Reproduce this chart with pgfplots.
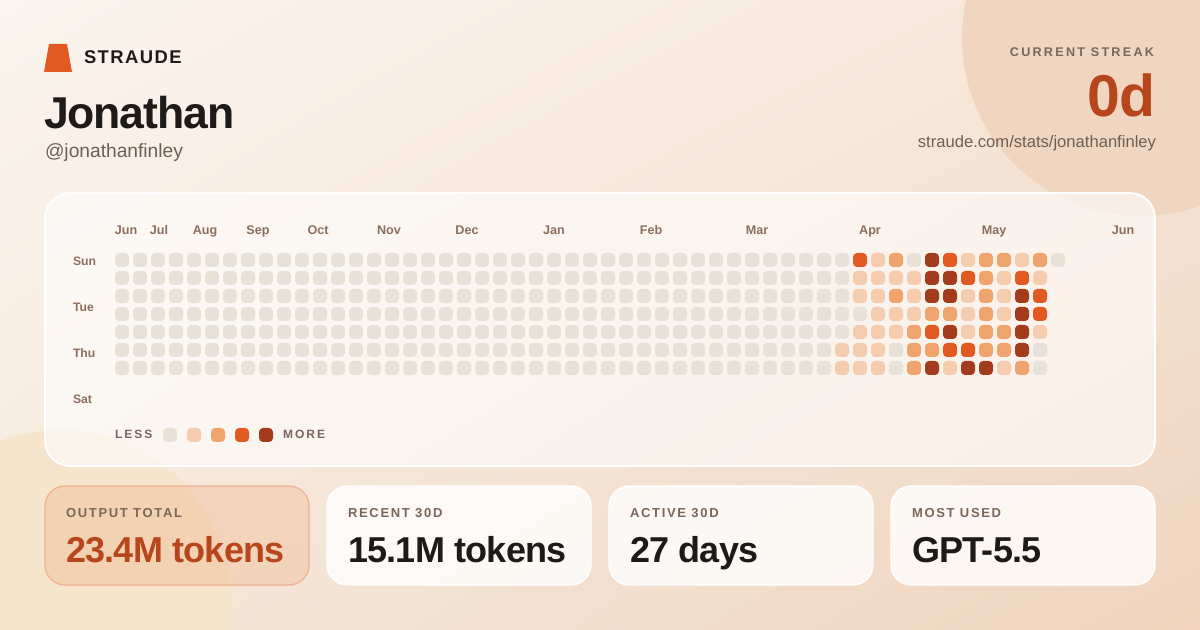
\documentclass[border=0pt]{standalone}
\usepackage{fontspec}
\setmainfont{Liberation Sans}
\usepackage{pgfplots}
\pgfplotsset{compat=1.18}
\usepackage{pgfplotstable}
\usetikzlibrary{shadings}

\definecolor{bgTL}{HTML}{FBF5EF}
\definecolor{bgTR}{HTML}{F5E6D8}
\definecolor{bgBL}{HTML}{F5E8DA}
\definecolor{bgBR}{HTML}{F0D4BE}
\definecolor{circTR}{HTML}{F0D5C0}
\definecolor{circBL}{HTML}{F7E4CD}
\definecolor{ink}{HTML}{1E1A17}
\definecolor{muted}{HTML}{6E5E54}
\definecolor{lab}{HTML}{7A665A}
\definecolor{mon}{HTML}{8C6E5D}
\definecolor{accent}{HTML}{B8461C}
\definecolor{logo}{HTML}{E05A22}
\definecolor{lv0}{HTML}{E8E1D7}
\definecolor{lv1}{HTML}{F6CCAE}
\definecolor{lv2}{HTML}{F0A46D}
\definecolor{lv3}{HTML}{E05A22}
\definecolor{lv4}{HTML}{A33C1C}
\definecolor{cardO}{HTML}{E9955F}
\definecolor{cardOb}{HTML}{EDB292}

% rounded square mark, half side 3.5pt, corner radius 2pt
\pgfdeclareplotmark{rsq}{%
  \pgfpathmoveto{\pgfqpoint{-1.5pt}{-3.5pt}}%
  \pgfpathlineto{\pgfqpoint{1.5pt}{-3.5pt}}%
  \pgfpatharc{-90}{0}{2pt}%
  \pgfpathlineto{\pgfqpoint{3.5pt}{1.5pt}}%
  \pgfpatharc{0}{90}{2pt}%
  \pgfpathlineto{\pgfqpoint{-1.5pt}{3.5pt}}%
  \pgfpatharc{90}{180}{2pt}%
  \pgfpathlineto{\pgfqpoint{-3.5pt}{-1.5pt}}%
  \pgfpatharc{180}{270}{2pt}%
  \pgfpathclose
  \pgfusepathqfill
}

% activity level per week (rows) and weekday (columns d0=Sun ... d6=Sat)
\pgfplotstableread{
w d0 d1 d2 d3 d4 d5 d6
0 0 0 0 0 0 0 0
1 0 0 0 0 0 0 0
2 0 0 0 0 0 0 0
3 0 0 0 0 0 0 0
4 0 0 0 0 0 0 0
5 0 0 0 0 0 0 0
6 0 0 0 0 0 0 0
7 0 0 0 0 0 0 0
8 0 0 0 0 0 0 0
9 0 0 0 0 0 0 0
10 0 0 0 0 0 0 0
11 0 0 0 0 0 0 0
12 0 0 0 0 0 0 0
13 0 0 0 0 0 0 0
14 0 0 0 0 0 0 0
15 0 0 0 0 0 0 0
16 0 0 0 0 0 0 0
17 0 0 0 0 0 0 0
18 0 0 0 0 0 0 0
19 0 0 0 0 0 0 0
20 0 0 0 0 0 0 0
21 0 0 0 0 0 0 0
22 0 0 0 0 0 0 0
23 0 0 0 0 0 0 0
24 0 0 0 0 0 0 0
25 0 0 0 0 0 0 0
26 0 0 0 0 0 0 0
27 0 0 0 0 0 0 0
28 0 0 0 0 0 0 0
29 0 0 0 0 0 0 0
30 0 0 0 0 0 0 0
31 0 0 0 0 0 0 0
32 0 0 0 0 0 0 0
33 0 0 0 0 0 0 0
34 0 0 0 0 0 0 0
35 0 0 0 0 0 0 0
36 0 0 0 0 0 0 0
37 0 0 0 0 0 0 0
38 0 0 0 0 0 0 0
39 0 0 0 0 0 0 0
40 0 0 0 0 0 1 1
41 3 1 1 0 1 1 1
42 1 1 1 1 1 1 1
43 2 1 2 1 1 0 0
44 0 1 1 1 2 2 2
45 4 4 4 2 3 2 4
46 3 4 4 2 4 3 1
47 1 3 1 1 1 3 4
48 2 2 2 2 2 2 4
49 2 1 1 1 2 2 1
50 1 3 4 4 4 4 2
51 2 1 3 3 1 0 0
}\heat

\tikzset{every node/.append style={inner sep=0pt, outer sep=0pt},
  mlab/.style={anchor=base, text=mon, font={\fontsize{6.3pt}{6.3pt}\selectfont\bfseries}},
  dlab/.style={anchor=base west, text=mon, font={\fontsize{6.1pt}{6.1pt}\selectfont\bfseries}},
  clab/.style={anchor=base west, text=lab, font={\fontsize{6.5pt}{6.5pt}\selectfont\bfseries\addfontfeatures{LetterSpace=13}}},
  cval/.style={anchor=base west, text=ink, font={\fontsize{18pt}{18pt}\selectfont\bfseries\addfontfeatures{LetterSpace=-2}}},
  wcard/.style={fill=white, fill opacity=0.8, draw=white, line width=0.6pt, rounded corners=10pt},
  sw/.style={rounded corners=2pt}}

\newcommand{\fsz}[1]{\fontsize{#1}{#1}\selectfont}

\begin{document}
\begin{tikzpicture}
\begin{axis}[at={(0pt,0pt)}, anchor=south west, width=600pt, height=315pt,
  scale only axis, xmin=0, xmax=1200, ymin=0, ymax=630, y dir=reverse,
  hide axis, clip=false]
% background
\shade[upper left=bgTL, upper right=bgTR, lower left=bgBL, lower right=bgBR] (0,0) rectangle (1200,630);
\begin{pgfinterruptboundingbox}
\begin{scope}
\clip (0,0) rectangle (1200,630);
\fill[circTR] (1140,38) circle[radius=89pt];
\fill[circBL] (60,600) circle[radius=85pt];
\end{scope}
\end{pgfinterruptboundingbox}
% header
\fill[logo] (44,72) -- (72,72) -- (67,44) -- (49,44) -- cycle;
\node[anchor=base west, text=ink, font={\fsz{9.2pt}\bfseries\addfontfeatures{LetterSpace=8}}] at (84,64) {STRAUDE};
\node[anchor=base west, text=ink, font={\fsz{22.3pt}\bfseries\addfontfeatures{LetterSpace=-2.5}}] at (44,129) {Jonathan};
\node[anchor=base west, text=muted, font={\fsz{9.6pt}}] at (45,158) {@jonathanfinley};
\node[anchor=base east, text=lab, font={\fsz{6.3pt}\bfseries\addfontfeatures{LetterSpace=18}}] at (1154,57) {CURRENT STREAK};
\node[anchor=base east, text=accent, font={\fsz{29.5pt}\bfseries\addfontfeatures{LetterSpace=-2}}] at (1155,117) {0d};
\node[anchor=base east, text=muted, font={\fsz{8.3pt}}] at (1156,148) {straude.com/stats/jonathanfinley};
% heatmap card
\fill[white, fill opacity=0.6, rounded corners=12.5pt] (45,193) rectangle (1155,466);
\draw[white, line width=0.8pt, rounded corners=12.5pt] (45,193) rectangle (1155,466);
% month labels
\node[mlab] at (126,235) {Jun};
\node[mlab] at (159,235) {Jul};
\node[mlab] at (205,235) {Aug};
\node[mlab] at (258,235) {Sep};
\node[mlab] at (318,235) {Oct};
\node[mlab] at (389,235) {Nov};
\node[mlab] at (467,235) {Dec};
\node[mlab] at (554,235) {Jan};
\node[mlab] at (651,235) {Feb};
\node[mlab] at (757,235) {Mar};
\node[mlab] at (870,235) {Apr};
\node[mlab] at (994,235) {May};
\node[mlab] at (1123,235) {Jun};
% weekday labels
\node[dlab] at (73,266) {Sun};
\node[dlab] at (73,312) {Tue};
\node[dlab] at (73,358) {Thu};
\node[dlab] at (73,404) {Sat};
% legend
\node[anchor=base west, text=lab, font={\fsz{6pt}\bfseries\addfontfeatures{LetterSpace=17}}] at (115,439) {LESS};
\fill[lv0, sw] (163,428) rectangle (177,442);
\fill[lv1, sw] (187,428) rectangle (201,442);
\fill[lv2, sw] (211,428) rectangle (225,442);
\fill[lv3, sw] (235,428) rectangle (249,442);
\fill[lv4, sw] (259,428) rectangle (273,442);
\node[anchor=base west, text=lab, font={\fsz{6pt}\bfseries\addfontfeatures{LetterSpace=17}}] at (283,439) {MORE};
% stat cards
\fill[cardO, fill opacity=0.22, rounded corners=10pt] (45,486) rectangle (309,585);
\draw[cardOb, line width=0.6pt, rounded corners=10pt] (45,486) rectangle (309,585);
\path[wcard] (327,486) rectangle (591,585);
\path[wcard] (609,486) rectangle (873,585);
\path[wcard] (891,486) rectangle (1155,585);
\node[clab] at (66,518) {OUTPUT TOTAL};
\node[clab] at (348,518) {RECENT 30D};
\node[clab] at (630,518) {ACTIVE 30D};
\node[clab] at (912,518) {MOST USED};
\node[cval, text=accent] at (66,562) {23.4M tokens};
\node[cval] at (348,562) {15.1M tokens};
\node[cval] at (630,562) {27 days};
\node[cval] at (912,562) {GPT-5.5};
\end{axis}

\begin{axis}[at={(56.5pt,126.5pt)}, anchor=south west, width=477pt, height=63pt,
  scale only axis, xmin=-0.5, xmax=52.5, ymin=-0.5, ymax=6.5, y dir=reverse,
  hide axis, clip=false,
  colormap={lv}{rgb255=(232,225,215) rgb255=(246,204,174) rgb255=(240,164,109) rgb255=(224,90,34) rgb255=(163,60,28)},
  point meta min=0, point meta max=4]
\addplot[scatter, only marks, mark=rsq, scatter src=explicit] table[x=w, y expr=0, meta=d0] {\heat};
\addplot[scatter, only marks, mark=rsq, scatter src=explicit] table[x=w, y expr=1, meta=d1] {\heat};
\addplot[scatter, only marks, mark=rsq, scatter src=explicit] table[x=w, y expr=2, meta=d2] {\heat};
\addplot[scatter, only marks, mark=rsq, scatter src=explicit] table[x=w, y expr=3, meta=d3] {\heat};
\addplot[scatter, only marks, mark=rsq, scatter src=explicit] table[x=w, y expr=4, meta=d4] {\heat};
\addplot[scatter, only marks, mark=rsq, scatter src=explicit] table[x=w, y expr=5, meta=d5] {\heat};
\addplot[scatter, only marks, mark=rsq, scatter src=explicit] table[x=w, y expr=6, meta=d6] {\heat};
\addplot[only marks, mark=rsq, color=lv0, fill=lv0] coordinates {(52,0)};
\end{axis}
\end{tikzpicture}
\end{document}
